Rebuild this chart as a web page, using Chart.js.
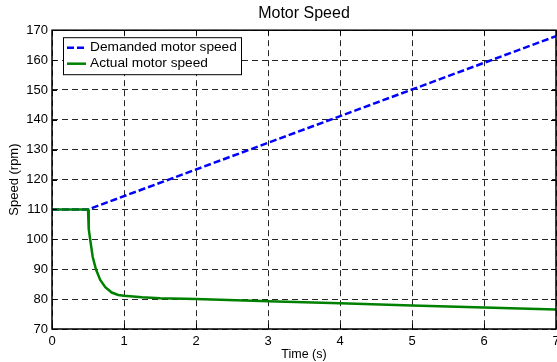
<!DOCTYPE html>
<html>
<head>
<meta charset="utf-8">
<script src="https://cdn.jsdelivr.net/npm/chart.js@4/dist/chart.umd.min.js"></script>
<style>
  html, body { margin: 0; padding: 0; background: #fff; }
  #wrap { width: 557px; height: 362px; }
</style>
</head>
<body>
<div id="wrap"><canvas id="c" width="557" height="362"></canvas></div>
<script>
// ---- Data ----
const chartTitle = "Motor Speed";
const xTitle = "Time (s)";
const yTitle = "Speed (rpm)";
const seriesNames = ["Demanded motor speed", "Actual motor speed"];

const demandedTime  = [0, 0.5, 7];
const demandedSpeed = [110, 110, 168];

const actualTime  = [0, 0.5, 0.51, 0.53, 0.565, 0.61, 0.67, 0.74, 0.83, 0.92, 1.0, 1.25, 1.5, 2, 3, 4, 5, 6, 7];
const actualSpeed = [110, 110, 103.5, 100, 94.2, 90, 86.4, 84, 82.2, 81.4, 81.1, 80.6, 80.3, 80.0, 79.3, 78.6, 77.9, 77.2, 76.5];

const xTicks = [0, 1, 2, 3, 4, 5, 6, 7];
const yTicks = [70, 80, 90, 100, 110, 120, 130, 140, 150, 160, 170];

const FONT = "'Liberation Sans', Arial, Helvetica, sans-serif";
const toPts = (xs, ys) => xs.map((x, i) => ({ x: x, y: ys[i] }));

const frameAndLegend = {
  id: 'frameAndLegend',
  afterDraw(chart) {
    const ctx = chart.ctx;
    const a = chart.chartArea;
    const xs = chart.scales.x, ys = chart.scales.y;
    ctx.save();
    // inward tick marks
    ctx.strokeStyle = '#000';
    ctx.lineWidth = 1;
    ctx.setLineDash([]);
    ctx.beginPath();
    xTicks.forEach(v => {
      const px = Math.round(xs.getPixelForValue(v)) + 0.5;
      ctx.moveTo(px, a.bottom); ctx.lineTo(px, a.bottom - 5);
      ctx.moveTo(px, a.top); ctx.lineTo(px, a.top + 5);
    });
    yTicks.forEach(v => {
      const py = Math.round(ys.getPixelForValue(v)) + 0.5;
      ctx.moveTo(a.left, py); ctx.lineTo(a.left + 5, py);
      ctx.moveTo(a.right, py); ctx.lineTo(a.right - 5, py);
    });
    ctx.stroke();
    // frame
    ctx.lineWidth = 1.5;
    ctx.strokeRect(a.left, a.top, a.right - a.left, a.bottom - a.top);

    // legend box
    const lx = a.left + 11, ly = a.top + 7, lw = 178, lh = 37;
    ctx.fillStyle = '#fff';
    ctx.fillRect(lx, ly, lw, lh);
    ctx.lineWidth = 1;
    ctx.strokeStyle = '#000';
    ctx.strokeRect(lx + 0.5, ly + 0.5, lw, lh);
    const ds = chart.data.datasets;
    const rows = [ly + 10.5, ly + 26.5];
    ds.forEach((d, i) => {
      ctx.beginPath();
      ctx.strokeStyle = d.borderColor;
      ctx.lineWidth = d.borderWidth;
      ctx.setLineDash(d.borderDash || []);
      ctx.moveTo(lx + 4, rows[i]);
      ctx.lineTo(lx + 23, rows[i]);
      ctx.stroke();
      ctx.setLineDash([]);
      ctx.fillStyle = '#000';
      ctx.font = "13.7px " + FONT;
      ctx.textBaseline = 'middle';
      ctx.textAlign = 'left';
      ctx.fillText(d.label, lx + 27, rows[i]);
    });
    ctx.restore();
  }
};

new Chart(document.getElementById('c'), {
  type: 'line',
  data: {
    datasets: [
      {
        label: seriesNames[0],
        data: toPts(demandedTime, demandedSpeed),
        borderColor: '#0000ff',
        borderWidth: 2.5,
        borderDash: [7, 3],
        pointRadius: 0,
        tension: 0,
        fill: false,
        order: 1
      },
      {
        label: seriesNames[1],
        data: toPts(actualTime, actualSpeed),
        borderColor: '#008000',
        borderWidth: 2.5,
        pointRadius: 0,
        tension: 0,
        fill: false,
        order: 0
      }
    ]
  },
  options: {
    responsive: false,
    animation: false,
    events: [],
    layout: { autoPadding: false, padding: { left: 0, right: 1, top: 0, bottom: 0 } },
    plugins: {
      legend: { display: false },
      tooltip: { enabled: false },
      title: {
        display: true,
        fullSize: false,
        text: chartTitle,
        color: '#000',
        font: { family: FONT, size: 16, weight: 'normal' },
        padding: { top: 4, bottom: 7 }
      }
    },
    scales: {
      x: {
        type: 'linear',
        min: 0, max: 7,
        afterBuildTicks: s => { s.ticks = xTicks.map(v => ({ value: v })); },
        afterFit: s => { s.height = 33; s.paddingLeft = 0; s.paddingRight = 0; },
        grid: { color: 'rgba(0,0,0,0.85)', lineWidth: 1, drawTicks: false },
        border: { display: false, dash: [6, 4] },
        ticks: { color: '#000', font: { family: FONT, size: 13 }, padding: 5, autoSkip: false, maxRotation: 0 },
        title: { display: true, text: xTitle, color: '#000', font: { family: FONT, size: 12.5 }, padding: { top: 0, bottom: 0 } }
      },
      y: {
        type: 'linear',
        min: 70, max: 170,
        afterBuildTicks: s => { s.ticks = yTicks.map(v => ({ value: v })); },
        afterFit: s => { s.width = 52; s.paddingTop = 0; s.paddingBottom = 0; },
        grid: { color: 'rgba(0,0,0,0.85)', lineWidth: 1, drawTicks: false },
        border: { display: false, dash: [6, 4] },
        ticks: { color: '#000', font: { family: FONT, size: 13 }, padding: 4, autoSkip: false },
        title: { display: true, text: yTitle, color: '#000', font: { family: FONT, size: 13 }, padding: { top: 7, bottom: 0 } }
      }
    }
  },
  plugins: [frameAndLegend]
});
</script>
</body>
</html>
